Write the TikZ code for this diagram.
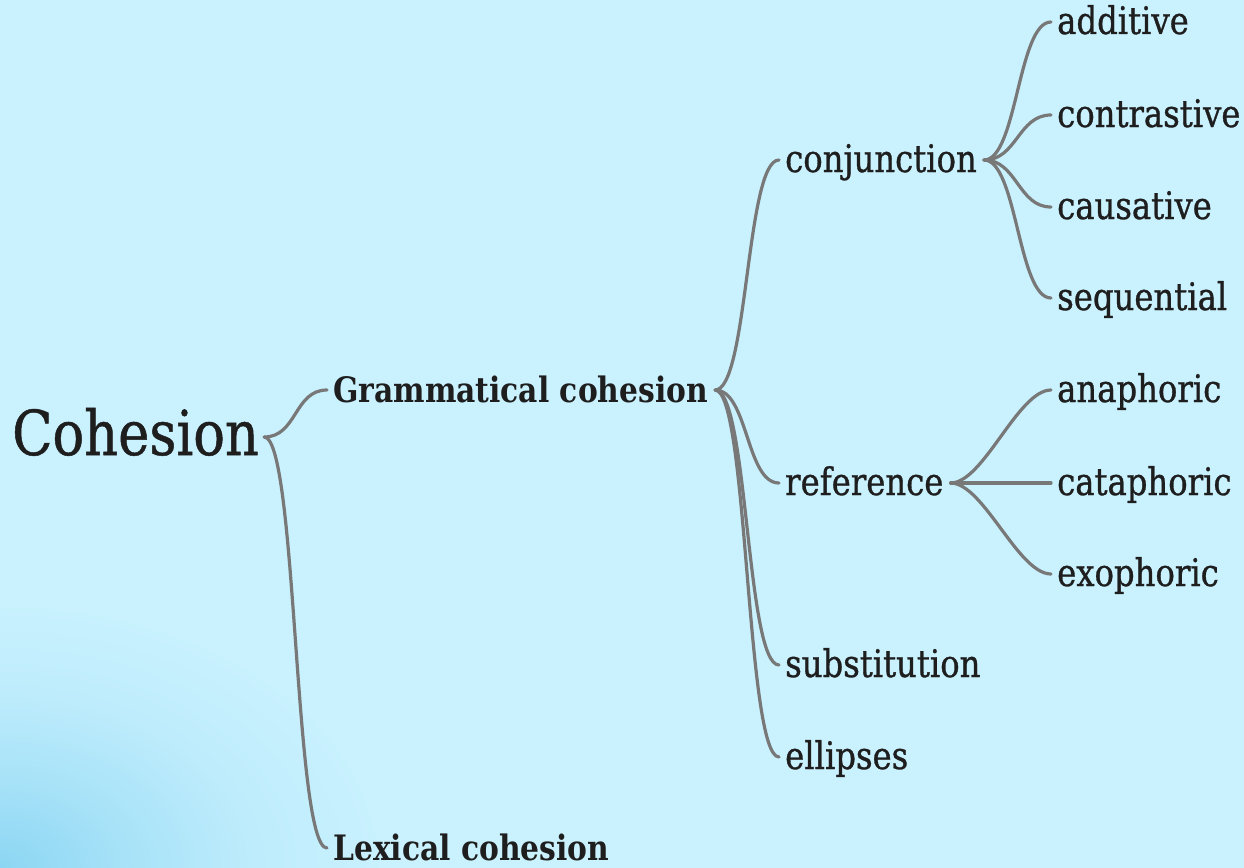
\documentclass[tikz,border=0pt]{standalone}
\usepackage{fontspec}
\setmainfont{DejaVu Serif}[FakeStretch=0.85]
\newfontfamily\lblfont{DejaVu Serif}[FakeStretch=0.85, FakeBold=0.8]
\usetikzlibrary{calc}

\definecolor{bg}{HTML}{C9F1FE}
\definecolor{corner}{HTML}{8CD6F3}
\definecolor{ink}{HTML}{1E1E1E}
\definecolor{branch}{HTML}{787878}

% glow in the bottom left corner, fading softly into the page colour
\pgfdeclareradialshading{cornerglow}{\pgfpoint{0bp}{0bp}}{%
  color(0bp)=(corner); color(1.1bp)=(corner!55!bg); color(2.2bp)=(corner!18!bg);
  color(3.3bp)=(bg); color(50bp)=(bg)}

% in/out attachment points of a label, relative to its baseline
\newcommand\ports[2]{%
  \coordinate (#1-in)  at ($(#1.base west)+(-6,-#2)$);
  \coordinate (#1-out) at ($(#1.base east)+(7,-#2)$);}
% curved branch from a parent's out point to a child's in point
\newcommand\branch[2]{%
  \draw[link] (#1-out) .. controls +(33,0) and +(-33,0) .. (#2-in);}

\begin{document}
\begin{tikzpicture}[x=1pt,y=-1pt,
  lbl/.style={anchor=base west, inner sep=0pt, text=ink,
              font=\lblfont\fontsize{38}{40}\selectfont},
  head/.style={lbl, font=\bfseries\fontsize{35}{37}\selectfont},
  rootlbl/.style={lbl, font=\lblfont\fontsize{62}{64}\selectfont},
  link/.style={draw=branch, line width=3.2pt, line cap=round}]

% background
\fill[bg] (0,0) rectangle (1244,867);
\begin{scope}
  \clip (0,0) rectangle (1244,867);
  \shade[shading=cornerglow] (0,867) ellipse [x radius=2900, y radius=2000];
\end{scope}
\useasboundingbox (0,0) rectangle (1244,867);

% labels
\node[rootlbl] (root)  at (12,455)   {Cohesion};
\node[head]    (gram)  at (333,402)  {Grammatical cohesion};
\node[head]    (lex)   at (333,860)  {Lexical cohesion};
\node[lbl]     (conj)  at (785,172)  {conjunction};
\node[lbl]     (ref)   at (785,495)  {reference};
\node[lbl]     (subst) at (785,677)  {substitution};
\node[lbl]     (ell)   at (785,769)  {ellipses};
\node[lbl]     (add)   at (1057,34)  {additive};
\node[lbl]     (contr) at (1057,127) {contrastive};
\node[lbl]     (caus)  at (1057,219) {causative};
\node[lbl]     (seq)   at (1057,310) {sequential};
\node[lbl]     (ana)   at (1057,402) {anaphoric};
\node[lbl]     (cata)  at (1057,495) {cataphoric};
\node[lbl]     (exo)   at (1057,586) {exophoric};

\coordinate (root-out) at ($(root.base east)+(5,-18)$);
\ports{gram}{12}
\ports{lex}{12}
\ports{conj}{12}
\ports{ref}{12}
\ports{subst}{12}
\ports{ell}{12}
\ports{add}{12}
\ports{contr}{12}
\ports{caus}{12}
\ports{seq}{12}
\ports{ana}{12}
\ports{cata}{12}
\ports{exo}{12}

% branches
\branch{root}{gram}
\branch{root}{lex}
\branch{gram}{conj}
\branch{gram}{ref}
\branch{gram}{subst}
\branch{gram}{ell}
\branch{conj}{add}
\branch{conj}{contr}
\branch{conj}{caus}
\branch{conj}{seq}
\branch{ref}{ana}
\branch{ref}{cata}
\branch{ref}{exo}
\end{tikzpicture}
\end{document}
